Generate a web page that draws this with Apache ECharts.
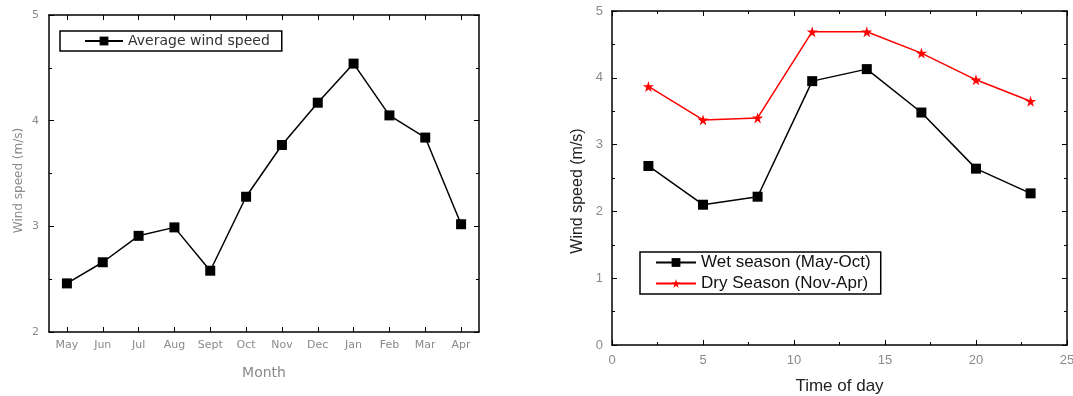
<!DOCTYPE html>
<html>
<head>
<meta charset="utf-8">
<script src="https://cdn.jsdelivr.net/npm/echarts@6/dist/echarts.min.js"></script>
<style>
html, body { margin: 0; padding: 0; background: #fff; }
#chart { width: 1073px; height: 396px; }
</style>
</head>
<body>
<div id="chart"></div>
<script>
// monthly averages (left panel)
var months = ["May", "Jun", "Jul", "Aug", "Sept", "Oct", "Nov", "Dec", "Jan", "Feb", "Mar", "Apr"];
var avgSpeed = [2.46, 2.66, 2.91, 2.99, 2.58, 3.28, 3.77, 4.17, 4.54, 4.05, 3.84, 3.02];

// diurnal profile (right panel)
var hours = [2, 5, 8, 11, 14, 17, 20, 23];
var wetSeason = [2.68, 2.10, 2.22, 3.95, 4.13, 3.48, 2.64, 2.27];
var drySeason = [3.87, 3.37, 3.40, 4.69, 4.69, 4.37, 3.97, 3.65];

var chart = echarts.init(document.getElementById("chart"));

function pairs(xs, ys) {
    var out = [];
    for (var i = 0; i < xs.length; i++) {
        out.push([xs[i], ys[i]]);
    }
    return out;
}

var starPath = 'path://M50,0 L61,35 L98,35 L68,57 L79,91 L50,70 L21,91 L32,57 L2,35 L39,35 Z';
var gray = '#8a8a8a';
var wideFont = 'DejaVu Sans, sans-serif';
var plainFont = 'Liberation Sans, Arial, sans-serif';
var inTick = { show: true, inside: true, length: 5, lineStyle: { color: '#000' } };
var inMinor = { show: true, splitNumber: 2, length: 3, lineStyle: { color: '#000' } };
var blackLine = { show: true, onZero: false, lineStyle: { color: '#000', width: 1.5 } };

var option = {
    animation: false,
    textStyle: { fontFamily: plainFont },
    grid: [
        { left: 49, top: 15, width: 430, height: 317, show: false, containLabel: false, outerBoundsMode: 'none' },
        { left: 612, top: 11, width: 455, height: 334, show: false, containLabel: false, outerBoundsMode: 'none' }
    ],
    legend: [
        {
            data: ['Average wind speed'],
            left: 60, top: 31,
            padding: [3, 12, 3, 24],
            itemWidth: 38, itemHeight: 11,
            itemGap: 4,
            borderColor: '#000', borderWidth: 1.5, borderRadius: 0,
            textStyle: { color: '#333', fontSize: 14, fontFamily: wideFont }
        },
        {
            data: ['Wet season (May-Oct)', 'Dry Season (Nov-Apr)'],
            orient: 'vertical',
            left: 640, top: 252,
            padding: [2, 10, 2, 15],
            itemWidth: 40, itemHeight: 11,
            itemGap: 4,
            borderColor: '#000', borderWidth: 1.5, borderRadius: 0,
            textStyle: { color: '#111', fontSize: 17, fontFamily: plainFont }
        }
    ],
    xAxis: [
        {
            gridIndex: 0, type: 'category', data: months, position: 'bottom',
            boundaryGap: true,
            name: 'Month', nameLocation: 'middle', nameGap: 34,
            nameTextStyle: { color: gray, fontSize: 14, fontFamily: wideFont },
            axisLine: blackLine,
            axisTick: { show: true, inside: true, length: 5, alignWithLabel: true, lineStyle: { color: '#000' } },
            axisLabel: { color: gray, fontSize: 11, margin: 8, interval: 0, fontFamily: wideFont },
            splitLine: { show: false }
        },
        {
            gridIndex: 0, type: 'category', data: months, position: 'top',
            boundaryGap: true,
            axisLine: blackLine,
            axisTick: { show: true, inside: true, length: 5, alignWithLabel: true, lineStyle: { color: '#000' } },
            axisLabel: { show: false },
            splitLine: { show: false }
        },
        {
            gridIndex: 1, type: 'value', min: 0, max: 25, interval: 5, position: 'bottom',
            name: 'Time of day', nameLocation: 'middle', nameGap: 33,
            nameTextStyle: { color: '#222', fontSize: 17, fontFamily: plainFont },
            axisLine: blackLine,
            axisTick: inTick, minorTick: inMinor,
            axisLabel: { color: gray, fontSize: 13, margin: 9, fontFamily: plainFont },
            splitLine: { show: false }
        },
        {
            gridIndex: 1, type: 'value', min: 0, max: 25, interval: 5, position: 'top',
            axisLine: blackLine,
            axisTick: inTick, minorTick: inMinor,
            axisLabel: { show: false },
            splitLine: { show: false }
        }
    ],
    yAxis: [
        {
            gridIndex: 0, type: 'value', min: 2, max: 5, interval: 1, position: 'left',
            name: 'Wind speed (m/s)', nameLocation: 'middle', nameGap: 24,
            nameTextStyle: { color: gray, fontSize: 12, fontFamily: wideFont, padding: [0, 14, 0, 0] },
            axisLine: blackLine,
            axisTick: inTick, minorTick: inMinor,
            axisLabel: { color: gray, fontSize: 11, margin: 10, fontFamily: wideFont },
            splitLine: { show: false }
        },
        {
            gridIndex: 0, type: 'value', min: 2, max: 5, interval: 1, position: 'right',
            axisLine: blackLine,
            axisTick: inTick, minorTick: inMinor,
            axisLabel: { show: false },
            splitLine: { show: false }
        },
        {
            gridIndex: 1, type: 'value', min: 0, max: 5, interval: 1, position: 'left',
            name: 'Wind speed (m/s)', nameLocation: 'middle', nameGap: 26,
            nameTextStyle: { color: '#222', fontSize: 16, fontFamily: plainFont, padding: [0, 26, 0, 0] },
            axisLine: blackLine,
            axisTick: inTick, minorTick: inMinor,
            axisLabel: { color: gray, fontSize: 13, margin: 9, fontFamily: plainFont },
            splitLine: { show: false }
        },
        {
            gridIndex: 1, type: 'value', min: 0, max: 5, interval: 1, position: 'right',
            axisLine: blackLine,
            axisTick: inTick, minorTick: inMinor,
            axisLabel: { show: false },
            splitLine: { show: false }
        }
    ],
    series: [
        {
            name: 'Average wind speed', type: 'line',
            xAxisIndex: 0, yAxisIndex: 0,
            data: avgSpeed,
            symbol: 'rect', symbolSize: 10,
            itemStyle: { color: '#000' },
            lineStyle: { color: '#000', width: 1.5 }
        },
        {
            name: 'Wet season (May-Oct)', type: 'line',
            xAxisIndex: 2, yAxisIndex: 2,
            data: pairs(hours, wetSeason),
            symbol: 'rect', symbolSize: 10,
            itemStyle: { color: '#000' },
            lineStyle: { color: '#000', width: 1.5 }
        },
        {
            name: 'Dry Season (Nov-Apr)', type: 'line',
            xAxisIndex: 2, yAxisIndex: 2,
            data: pairs(hours, drySeason),
            symbol: starPath, symbolSize: 11,
            itemStyle: { color: '#f00' },
            lineStyle: { color: '#f00', width: 1.5 }
        }
    ]
};

chart.setOption(option);
</script>
</body>
</html>
